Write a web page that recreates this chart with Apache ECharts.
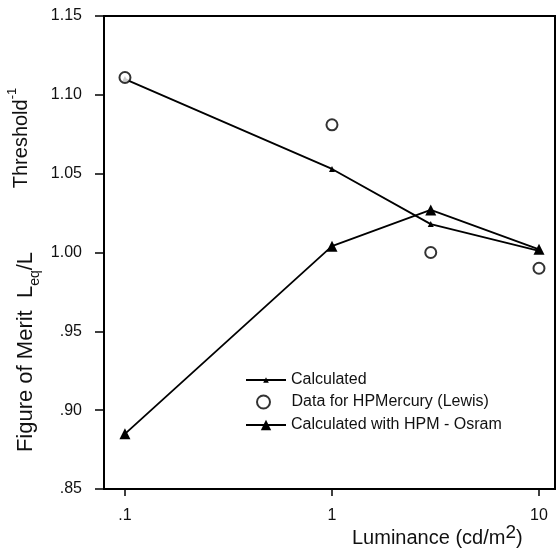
<!DOCTYPE html>
<html>
<head>
<meta charset="utf-8">
<script src="https://cdn.jsdelivr.net/npm/echarts@6/dist/echarts.min.js"></script>
<style>
html, body { margin: 0; padding: 0; background: #fff; }
#main { width: 557px; height: 551px; }
</style>
</head>
<body>
<div id="main"></div>
<script>
var luminance = [0.1, 1, 3, 10];
var calculated = [1.110, 1.053, 1.018, 1.001];
var lewisData = [1.111, 1.081, 1.000, 0.990];
var osram = [0.885, 1.004, 1.027, 1.002];
var xTickValues = [0.1, 1, 10];
var xTickLabels = ['.1', '1', '10'];
var yTickValues = [0.85, 0.90, 0.95, 1.00, 1.05, 1.10, 1.15];
var yTickLabels = ['.85', '.90', '.95', '1.00', '1.05', '1.10', '1.15'];

var font = "'Liberation Sans', Arial, sans-serif";

function pairs(ys) {
    return luminance.map(function (x, i) { return [x, ys[i]]; });
}

function legendBox(name, left, top, h, gap) {
    return {
        orient: 'vertical', left: left, top: top, padding: 0,
        itemWidth: 40, itemHeight: h,
        textStyle: { fontSize: 16, fontFamily: font, color: '#111', padding: [0, 0, 0, gap] },
        data: [name]
    };
}

var myChart = echarts.init(document.getElementById('main'));
myChart.setOption({
    animation: false,
    backgroundColor: '#fff',
    grid: {
        left: 104, right: 2, top: 16, bottom: 62,
        show: true, borderColor: '#000', borderWidth: 2
    },
    xAxis: {
        type: 'log',
        min: 0.0792,
        max: 11.95,
        axisLine: { lineStyle: { color: '#000', width: 2 } },
        axisTick: { inside: false, length: 7, customValues: xTickValues, lineStyle: { color: '#000', width: 1.5 } },
        axisLabel: {
            customValues: xTickValues,
            margin: 19,
            color: '#111',
            fontSize: 16,
            fontFamily: font,
            formatter: function (v) {
                var i = xTickValues.findIndex(function (t) { return Math.abs(Math.log10(t) - Math.log10(v)) < 1e-6; });
                return i >= 0 ? xTickLabels[i] : '';
            }
        },
        splitLine: { show: false },
        minorTick: { show: false }
    },
    yAxis: {
        type: 'value',
        min: 0.85,
        max: 1.15,
        interval: 0.05,
        axisLine: { show: true, lineStyle: { color: '#000', width: 2 } },
        axisTick: { show: true, inside: false, length: 9, lineStyle: { color: '#000', width: 1.5 } },
        axisLabel: {
            margin: 22,
            color: '#111',
            fontSize: 16,
            fontFamily: font,
            formatter: function (v) {
                var i = yTickValues.findIndex(function (t) { return Math.abs(t - v) < 1e-6; });
                return i >= 0 ? yTickLabels[i] : '';
            }
        },
        splitLine: { show: false }
    },
    legend: [
        legendBox('Calculated', 245, 372, 7, 0),
        legendBox('Data for HPMercury (Lewis)', 256, 394, 13, 3),
        legendBox('Calculated with HPM - Osram', 245, 417, 13, 0)
    ],
    graphic: [
        {
            type: 'text',
            x: 26, y: 352,
            rotation: Math.PI / 2,
            style: {
                text: 'Figure of Merit  L{sub|eq}/L',
                fill: '#111',
                font: '22px ' + font,
                align: 'center',
                verticalAlign: 'middle',
                lineHeight: 32,
                rich: {
                    sub: { fontSize: 14, fontFamily: font, fill: '#111', verticalAlign: 'bottom', lineHeight: 14 }
                }
            }
        },
        {
            type: 'text',
            x: 21, y: 138,
            rotation: Math.PI / 2,
            style: {
                text: 'Threshold{sup|-1}',
                fill: '#111',
                font: '20px ' + font,
                align: 'center',
                verticalAlign: 'middle',
                lineHeight: 30,
                rich: {
                    sup: { fontSize: 13, fontFamily: font, fill: '#111', verticalAlign: 'top', lineHeight: 13 }
                }
            }
        },
        {
            type: 'text',
            x: 352, y: 538,
            style: {
                text: 'Luminance (cd/m{sup|2})',
                fill: '#111',
                font: '20px ' + font,
                align: 'left',
                verticalAlign: 'middle',
                lineHeight: 30,
                rich: {
                    sup: { fontSize: 19, fontFamily: font, fill: '#111', verticalAlign: 'top', lineHeight: 19 }
                }
            }
        }
    ],
    series: [
        {
            name: 'Calculated',
            type: 'line',
            data: pairs(calculated),
            symbol: 'triangle',
            symbolSize: 6,
            itemStyle: { color: '#000' },
            lineStyle: { color: '#000', width: 1.8 }
        },
        {
            name: 'Data for HPMercury (Lewis)',
            type: 'scatter',
            data: pairs(lewisData),
            symbol: 'emptyCircle',
            symbolSize: 11,
            z: 3,
            itemStyle: { color: '#000', borderColor: '#000', borderWidth: 2 }
        },
        {
            name: 'Calculated with HPM - Osram',
            type: 'line',
            data: pairs(osram),
            symbol: 'triangle',
            symbolSize: 11,
            itemStyle: { color: '#000' },
            lineStyle: { color: '#000', width: 1.8 }
        }
    ]
});
</script>
</body>
</html>
